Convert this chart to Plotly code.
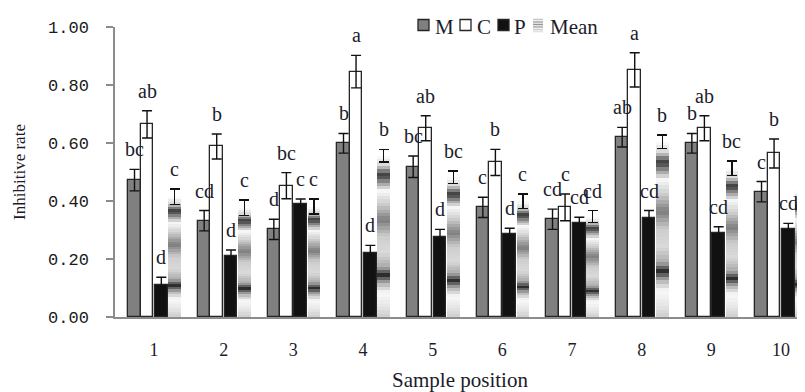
import plotly.graph_objects as go

# ---------------- data ----------------
positions = [1, 2, 3, 4, 5, 6, 7, 8, 9, 10]
tick_labels = ["1", "2", "3", "4", "5", "6", "7", "8", "9", "10"]

m_values = [0.472, 0.332, 0.302, 0.599, 0.518, 0.378, 0.337, 0.620, 0.599, 0.432]
m_errors = [0.037, 0.035, 0.035, 0.034, 0.037, 0.035, 0.035, 0.034, 0.034, 0.035]
c_values = [0.664, 0.588, 0.453, 0.846, 0.651, 0.533, 0.378, 0.852, 0.651, 0.564]
c_errors = [0.047, 0.043, 0.045, 0.056, 0.043, 0.045, 0.046, 0.059, 0.043, 0.050]
p_values = [0.110, 0.211, 0.389, 0.222, 0.277, 0.286, 0.323, 0.343, 0.289, 0.302]
p_errors = [0.027, 0.020, 0.018, 0.025, 0.025, 0.020, 0.021, 0.024, 0.022, 0.021]
mean_values = [0.415, 0.377, 0.381, 0.556, 0.482, 0.399, 0.346, 0.605, 0.513, 0.433]
mean_errors = [0.027, 0.026, 0.026, 0.022, 0.021, 0.025, 0.021, 0.023, 0.025, 0.028]

m_letters = ["bc", "cd", "d", "b", "bc", "c", "cd", "ab", "b", "c"]
c_letters = ["ab", "b", "bc", "a", "ab", "b", "c", "a", "ab", "b"]
p_letters = ["d", "d", "c", "d", "d", "d", "cd", "cd", "cd", "cd"]
mean_letters = ["c", "c", "c", "b", "bc", "c", "cd", "b", "bc", "c"]

series_names = ["M", "C", "P", "Mean"]

# ---------------- style ----------------
# the page body has an 8px margin, so the figure is shifted by 8px
PAGE_OFF = 8
VIEW_W, VIEW_H = 805, 392
W, H = VIEW_W - PAGE_OFF, VIEW_H - PAGE_OFF
PLOT_L, PLOT_T, PLOT_B = 115, 27, 317          # viewport pixels
ML, MR, MT, MB = PLOT_L - PAGE_OFF, 0, PLOT_T - PAGE_OFF, VIEW_H - PLOT_B
PW, PH = W - ML - MR, H - MT - MB

BAR_W = 0.18
OFF_M, OFF_C, OFF_P, OFF_MEAN = -0.37, -0.19, 0.015, 0.205
OUTLINE = "#262626"
ERR = dict(type="data", visible=True, color="#111111", thickness=1.4, width=5)
SERIF = "Liberation Serif"
TXT = "#1c1c2c"
M_FILL, C_FILL, P_FILL = "#808080", "#ffffff", "#111111"

# gradient look of the "Mean" bars: (fraction of bar height, gray level)
grad_stops = [(0.00, 205), (0.06, 228), (0.15, 250), (0.21, 175), (0.26, 45),
              (0.31, 170), (0.40, 218), (0.50, 205), (0.60, 125), (0.70, 205),
              (0.78, 248), (0.83, 160), (0.88, 55), (0.94, 215), (1.00, 255)]


def gray_at(f):
    for (f0, g0), (f1, g1) in zip(grad_stops[:-1], grad_stops[1:]):
        if f0 <= f <= f1:
            t = (f - f0) / (f1 - f0)
            g = int(round(g0 + t * (g1 - g0)))
            return f"rgb({g},{g},{g})"
    return "rgb(255,255,255)"


def err(arr):
    d = dict(ERR)
    d["array"] = arr
    return d


def px_x(px):
    return (px - PLOT_L) / PW


def px_y(py):
    return (PLOT_B - py) / PH


fig = go.Figure()

fig.add_bar(name="M", x=positions, y=m_values, width=BAR_W, offset=OFF_M,
            marker=dict(color=M_FILL, line=dict(color=OUTLINE, width=1.3)),
            error_y=err(m_errors))
fig.add_bar(name="C", x=positions, y=c_values, width=BAR_W, offset=OFF_C,
            marker=dict(color=C_FILL, line=dict(color=OUTLINE, width=1.3)),
            error_y=err(c_errors))
fig.add_bar(name="P", x=positions, y=p_values, width=BAR_W, offset=OFF_P,
            marker=dict(color=P_FILL, line=dict(color=OUTLINE, width=1.3)),
            error_y=err(p_errors))

# Mean: gradient built from stacked, slightly overlapping slices of each bar
n_slices = 48
for i in range(n_slices):
    f0 = i / n_slices
    f1 = (i + 1) / n_slices
    f1_draw = min(1.0, f1 + 0.6 / n_slices)
    col = gray_at((f0 + f1) / 2)
    fig.add_bar(name="Mean", x=positions, y=[v * (f1_draw - f0) for v in mean_values],
                base=[v * f0 for v in mean_values], width=BAR_W, offset=OFF_MEAN,
                marker=dict(color=col, line=dict(width=0)),
                hoverinfo="skip")
fig.add_bar(name="Mean", x=positions, y=mean_values, width=BAR_W, offset=OFF_MEAN,
            marker=dict(color="rgba(0,0,0,0)", line=dict(width=0)),
            error_y=err(mean_errors))

# significance letters
for vals, errs, letters, off in [(m_values, m_errors, m_letters, OFF_M),
                                 (c_values, c_errors, c_letters, OFF_C),
                                 (p_values, p_errors, p_letters, OFF_P),
                                 (mean_values, mean_errors, mean_letters, OFF_MEAN)]:
    for x, v, e, t in zip(positions, vals, errs, letters):
        fig.add_annotation(x=x + off + BAR_W / 2, y=v + e, text=t, showarrow=False,
                           xref="x", yref="y", yanchor="bottom", xanchor="center",
                           yshift=7, font=dict(family=SERIF, size=20, color=TXT))

# hand-made legend (squares + text), top centre
legend_items = [  # (square left px, text left px) in viewport pixels
    (418, 433), (460, 475), (498, 512), (533, 548)]
fills = [M_FILL, C_FILL, P_FILL, None]
shapes = []
for (sq, tx), name, fill in zip(legend_items, series_names, fills):
    if fill is not None:
        shapes.append(dict(type="rect", xref="paper", yref="paper",
                           x0=px_x(sq), x1=px_x(sq + 11), y0=px_y(30.5), y1=px_y(19.5),
                           fillcolor=fill, line=dict(color=OUTLINE, width=1.3)))
    else:
        for k, gy in enumerate([19.5, 22.0, 24.5, 27.0, 29.5, 31.5]):
            g = [200, 170, 150, 175, 205, 225][k]
            shapes.append(dict(type="line", xref="paper", yref="paper",
                               x0=px_x(sq), x1=px_x(sq + 10), y0=px_y(gy), y1=px_y(gy),
                               line=dict(color=f"rgb({g},{g},{g})", width=1.6)))
    fig.add_annotation(xref="paper", yref="paper", x=px_x(tx), y=px_y(26.5), text=name,
                       showarrow=False, xanchor="left", yanchor="middle",
                       font=dict(family=SERIF, size=21, color=TXT))

fig.update_layout(
    width=W, height=H,
    margin=dict(l=ML, r=MR, t=MT, b=MB, autoexpand=False),
    paper_bgcolor="white", plot_bgcolor="white",
    barmode="overlay", bargap=0,
    showlegend=False,
    shapes=shapes,
    xaxis=dict(range=[0.44, 10.344], tickvals=positions, ticktext=tick_labels,
               automargin=False,
               showline=True, linecolor="#8c8c8c", linewidth=1.5, ticks="",
               showgrid=False, zeroline=False,
               tickfont=dict(family=SERIF, size=18, color=TXT),
               ticklabelstandoff=16,
               title=dict(text="Sample position", font=dict(family=SERIF, size=21, color=TXT),
                          standoff=18)),
    yaxis=dict(range=[0, 1.0], tickvals=[0, 0.2, 0.4, 0.6, 0.8, 1.0], tickformat=".2f",
               automargin=False,
               showline=True, linecolor="#8c8c8c", linewidth=1.5, ticks="outside",
               ticklen=7, tickcolor="#8c8c8c", tickwidth=1.5,
               showgrid=False, zeroline=False,
               tickfont=dict(family="Liberation Mono", size=17, color="#1a1a1a"),
               ticklabelstandoff=14,
               title=dict(text="Inhibitive rate", font=dict(family=SERIF, size=17, color=TXT),
                          standoff=18)),
)

fig.write_html("out.html")
